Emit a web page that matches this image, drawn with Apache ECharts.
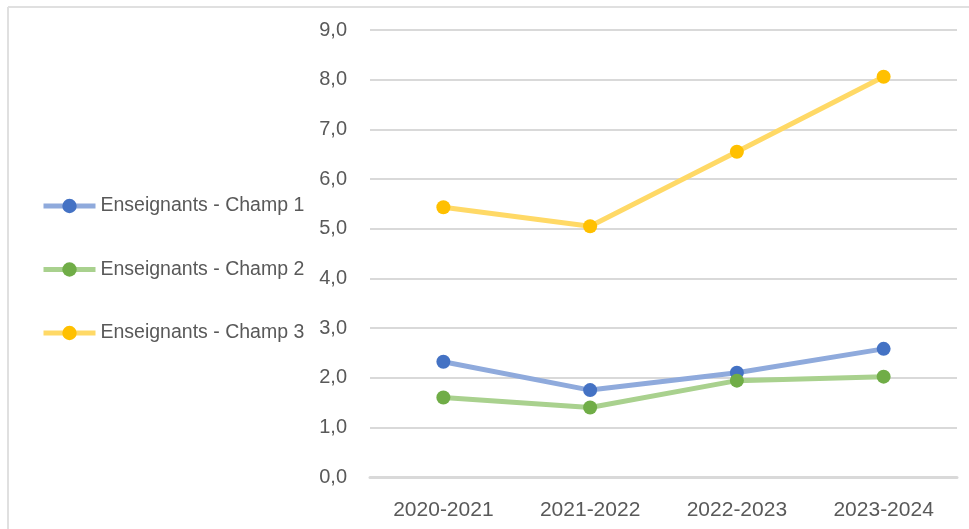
<!DOCTYPE html>
<html>
<head>
<meta charset="utf-8">
<script src="https://cdn.jsdelivr.net/npm/echarts@6/dist/echarts.min.js"></script>
<style>
  html, body { margin: 0; padding: 0; background: #fff; }
  #chart { width: 969px; height: 529px; }
</style>
</head>
<body>
<div id="chart"></div>
<script>
const years = ['2020-2021', '2021-2022', '2022-2023', '2023-2024'];
const champ1 = [2.32, 1.75, 2.1, 2.58];
const champ2 = [1.6, 1.4, 1.94, 2.02];
const champ3 = [5.43, 5.05, 6.55, 8.06];

const myChart = echarts.init(document.getElementById('chart'));

function serie(name, data, lineColor, dotColor) {
  return {
    name,
    type: 'line',
    data,
    symbol: 'circle',
    symbolSize: 14,
    lineStyle: { color: lineColor, width: 5 },
    itemStyle: { color: dotColor },
    emphasis: { disabled: true },
  };
}

const option = {
  animation: false,
  textStyle: { fontFamily: 'Liberation Sans' },
  graphic: [
    // cadre gris du graphique
    { type: 'line', shape: { x1: 8, y1: 7, x2: 969, y2: 7 }, style: { stroke: '#e0e0e0', lineWidth: 2 } },
    { type: 'line', shape: { x1: 8, y1: 7, x2: 8, y2: 529 }, style: { stroke: '#e0e0e0', lineWidth: 2 } },
  ],
  legend: {
    orient: 'vertical',
    left: 36,
    top: 191,
    itemWidth: 52,
    itemHeight: 18,
    itemGap: 43.5,
    lineStyle: { width: 5 },
    textStyle: { color: '#595959', fontSize: 19.5, fontFamily: 'Liberation Sans' },
    data: ['Enseignants - Champ 1', 'Enseignants - Champ 2', 'Enseignants - Champ 3'],
  },
  grid: { left: 370, right: 12, top: 30, bottom: 52 },
  xAxis: {
    type: 'category',
    data: years,
    axisLine: { show: true, lineStyle: { color: '#d9d9d9', width: 3 } },
    axisTick: { show: false },
    axisLabel: { color: '#595959', fontSize: 21, margin: 23 },
  },
  yAxis: {
    type: 'value',
    min: 0,
    max: 9,
    interval: 1,
    axisLine: { show: false },
    axisTick: { show: false },
    axisLabel: {
      color: '#595959',
      fontSize: 20,
      margin: 23,
      formatter: (v) => v.toFixed(1).replace('.', ','),
    },
    splitLine: { lineStyle: { color: '#d9d9d9', width: 2 } },
  },
  series: [
    serie('Enseignants - Champ 1', champ1, '#8faadc', '#4472c4'),
    serie('Enseignants - Champ 2', champ2, '#a9d18e', '#70ad47'),
    serie('Enseignants - Champ 3', champ3, '#ffd966', '#ffc000'),
  ],
};

myChart.setOption(option);
</script>
</body>
</html>
